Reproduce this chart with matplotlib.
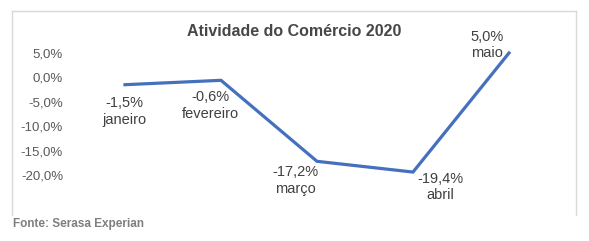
import matplotlib
matplotlib.use("Agg")
import matplotlib.pyplot as plt
from matplotlib.lines import Line2D

# data
meses = ["janeiro", "fevereiro", "março", "abril", "maio"]
valores = [-1.5, -0.6, -17.2, -19.4, 5.0]
yticks = [5, 0, -5, -10, -15, -20]

# label offsets in pixels (dx, dy) relative to each point
offsets = [(-1, -27), (-11, -25), (-22, -19), (27, -15), (-22, 8)]

plt.rcParams['font.family'] = ['Liberation Sans', 'DejaVu Sans']

fig = plt.figure(figsize=(5.89, 2.41), dpi=100)
ax = fig.add_axes([77/589, 36/241, 480/589, 175/241])

x = list(range(len(meses)))
ax.plot(x, valores, color='#4470BE', lw=2.3, solid_joinstyle='miter')

ax.set_xlim(-0.5, len(meses) - 0.5)
ax.set_ylim(-26.15, 9.71)
ax.set_yticks(yticks)
ax.set_yticklabels([("%.1f%%" % v).replace('.', ',') for v in yticks])
ax.set_xticks([])
ax.tick_params(axis='y', length=0, pad=10, labelsize=9.5, labelcolor='#595959')
for s in ax.spines.values():
    s.set_visible(False)

for i, (m, v) in enumerate(zip(meses, valores)):
    lab = ("%.1f%%" % v).replace('.', ',') + "\n" + m
    ax.annotate(lab, xy=(i, v), xytext=offsets[i], textcoords='offset pixels',
                ha='center', va='center', fontsize=10.5, color='#404040',
                linespacing=1.25)

fig.text(0.499, 1 - 31/241, "Atividade do Comércio 2020", ha='center', va='center',
         fontsize=11.5, fontweight='bold', color='#474747')
fig.text(13/589, 1 - 224/241, "Fonte: Serasa Experian", ha='left', va='center',
         fontsize=8.5, fontweight='bold', color='#7f7f7f')

# chart border (top, left, right)
bl, br = 12/589, 575.5/589
bt, bb = 1 - 11/241, 1 - 215/241
for xs, ys in [([bl, br], [bt, bt]), ([bl, bl], [bt, bb]), ([br, br], [bt, bb])]:
    fig.add_artist(Line2D(xs, ys, transform=fig.transFigure, color='#d9d9d9', lw=1))

fig.savefig("out.png", dpi=100)
